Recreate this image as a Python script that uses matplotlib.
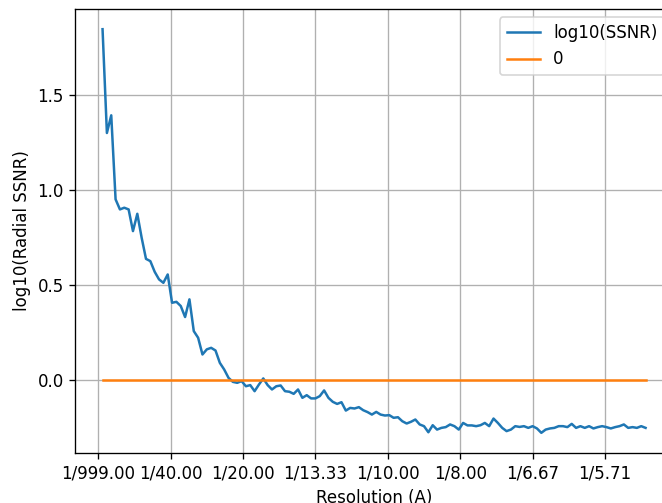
import matplotlib
matplotlib.use("Agg")
import matplotlib.pyplot as plt
import numpy as np

# log10 of radial SSNR
log_ssnr = [
    1.846, 1.30, 1.393, 0.951, 0.898, 0.907, 0.898, 0.784, 0.875, 0.749,
    0.638, 0.626, 0.57, 0.53, 0.512, 0.556,
    0.407, 0.412, 0.39, 0.332, 0.425, 0.258, 0.223, 0.135, 0.162, 0.17,
    0.156, 0.091, 0.056, 0.012, -0.009, -0.014, -0.005, -0.032, -0.026, -0.058,
    -0.023, 0.009, -0.026, -0.049, -0.032,
    -0.028, -0.058, -0.061, -0.072, -0.049, -0.093, -0.079, -0.096, -0.096, -0.084,
    -0.054, -0.093, -0.114, -0.125, -0.116, -0.16, -0.146, -0.149, -0.142, -0.158,
    -0.168, -0.181, -0.167, -0.181, -0.186, -0.184, -0.198, -0.195, -0.216, -0.228,
    -0.219, -0.207, -0.233, -0.242, -0.274, -0.237, -0.26, -0.251, -0.247, -0.233,
    -0.242, -0.26, -0.225, -0.238, -0.238, -0.242, -0.237, -0.225, -0.242, -0.202,
    -0.225, -0.251, -0.268, -0.26, -0.242, -0.246, -0.242, -0.251,
    -0.242, -0.254, -0.277, -0.26, -0.254, -0.251, -0.242, -0.242, -0.247, -0.23,
    -0.251, -0.242, -0.251, -0.242, -0.254, -0.247, -0.242, -0.247, -0.254, -0.247,
    -0.242, -0.233, -0.251, -0.247, -0.251, -0.242, -0.251,
]
freq_start = 0.0015
freq_end = 0.189
freq = np.linspace(freq_start, freq_end, len(log_ssnr))

tick_pos = [0, 0.025, 0.05, 0.075, 0.1, 0.125, 0.15, 0.175]
tick_labels = ["1/999.00", "1/40.00", "1/20.00", "1/13.33",
               "1/10.00", "1/8.00", "1/6.67", "1/5.71"]

# the reference was rendered at 120 dpi, everything is 1.2x the defaults
dpi = 120
fig = plt.figure(figsize=(662 / dpi, 503 / dpi), dpi=dpi)
ax = fig.add_axes([0.1139, 0.0994, 0.9023, 0.8827])

ax.plot(freq, log_ssnr, label="log10(SSNR)")
ax.plot(freq, np.zeros_like(freq), label="0")

ax.set_xticks(tick_pos)
ax.set_xticklabels(tick_labels)
ax.set_xlabel("Resolution (A)")
ax.set_ylabel("log10(Radial SSNR)")
ax.grid(True)
ax.legend(loc="upper right")

fig.savefig("out.png", dpi=dpi)
